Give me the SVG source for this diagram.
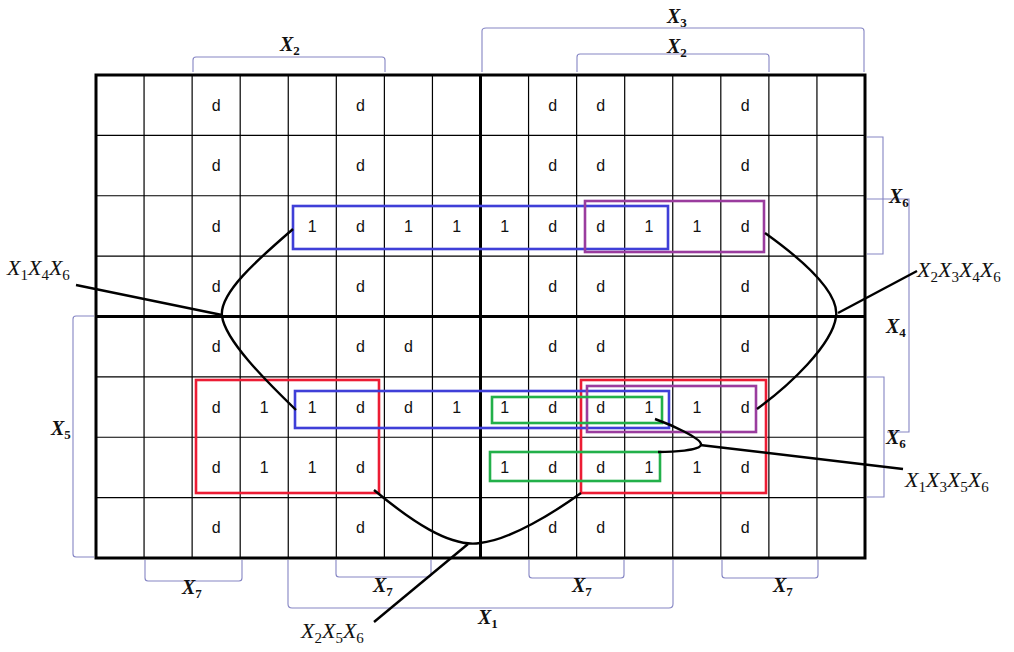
<svg xmlns="http://www.w3.org/2000/svg" width="1014" height="652" viewBox="0 0 1014 652">
<style>
.thin{stroke:#000;stroke-width:1.2;fill:none}
.thick{stroke:#000;stroke-width:3;fill:none}
.cell{font-family:"Liberation Sans",Arial,sans-serif;font-size:16px;text-anchor:middle;fill:#111}
.br{stroke:#8585c4;stroke-width:1.1;fill:none}
.bl{font-family:"Liberation Serif","Times New Roman",serif;font-size:20px;font-weight:bold;font-style:italic;fill:#111}
.bl .s{font-size:13px;font-style:normal}
.term{font-family:"Liberation Serif","Times New Roman",serif;font-size:22px;font-style:italic;fill:#111}
.term .s{font-size:15px;font-style:normal}
.loop{fill:none;stroke-width:2.6}
.blue{stroke:#3f3fd8}
.red{stroke:#ec1c34}
.purple{stroke:#9a3c9e}
.green{stroke:#22b04a}
.conn{fill:none;stroke:#000;stroke-width:2.4}
</style>
<rect width="1014" height="652" fill="#fff"/>
<g id="grid">
<path class="thin" d="M144.06 75V558M192.13 75V558M240.19 75V558M288.25 75V558M336.31 75V558M384.38 75V558M432.44 75V558M528.56 75V558M576.63 75V558M624.69 75V558M672.75 75V558M720.81 75V558M768.88 75V558M816.94 75V558M96 135.4H865M96 195.75H865M96 256.1H865M96 376.9H865M96 437.25H865M96 497.6H865"/>
<rect class="thick" x="96" y="75" width="769" height="483"/>
<path class="thick" d="M480.5 75V558M96 316.5H865"/>
</g>
<g id="cells">
<text class="cell" x="216.2" y="111">d</text><text class="cell" x="360.4" y="111">d</text><text class="cell" x="552.7" y="111">d</text><text class="cell" x="600.8" y="111">d</text><text class="cell" x="745.1" y="111">d</text>
<text class="cell" x="216.2" y="171">d</text><text class="cell" x="360.4" y="171">d</text><text class="cell" x="552.7" y="171">d</text><text class="cell" x="600.8" y="171">d</text><text class="cell" x="745.1" y="171">d</text>
<text class="cell" x="216.2" y="232">d</text><text class="cell" x="312.3" y="232">1</text><text class="cell" x="360.4" y="232">d</text><text class="cell" x="408.5" y="232">1</text><text class="cell" x="456.6" y="232">1</text><text class="cell" x="504.7" y="232">1</text><text class="cell" x="552.7" y="232">d</text><text class="cell" x="600.8" y="232">d</text><text class="cell" x="648.9" y="232">1</text><text class="cell" x="697" y="232">1</text><text class="cell" x="745.1" y="232">d</text>
<text class="cell" x="216.2" y="292">d</text><text class="cell" x="360.4" y="292">d</text><text class="cell" x="552.7" y="292">d</text><text class="cell" x="600.8" y="292">d</text><text class="cell" x="745.1" y="292">d</text>
<text class="cell" x="216.2" y="352">d</text><text class="cell" x="360.4" y="352">d</text><text class="cell" x="408.5" y="352">d</text><text class="cell" x="552.7" y="352">d</text><text class="cell" x="600.8" y="352">d</text><text class="cell" x="745.1" y="352">d</text>
<text class="cell" x="216.2" y="413">d</text><text class="cell" x="264.2" y="413">1</text><text class="cell" x="312.3" y="413">1</text><text class="cell" x="360.4" y="413">d</text><text class="cell" x="408.5" y="413">d</text><text class="cell" x="456.6" y="413">1</text><text class="cell" x="504.7" y="413">1</text><text class="cell" x="552.7" y="413">d</text><text class="cell" x="600.8" y="413">d</text><text class="cell" x="648.9" y="413">1</text><text class="cell" x="697" y="413">1</text><text class="cell" x="745.1" y="413">d</text>
<text class="cell" x="216.2" y="473">d</text><text class="cell" x="264.2" y="473">1</text><text class="cell" x="312.3" y="473">1</text><text class="cell" x="360.4" y="473">d</text><text class="cell" x="504.7" y="473">1</text><text class="cell" x="552.7" y="473">d</text><text class="cell" x="600.8" y="473">d</text><text class="cell" x="648.9" y="473">1</text><text class="cell" x="697" y="473">1</text><text class="cell" x="745.1" y="473">d</text>
<text class="cell" x="216.2" y="533">d</text><text class="cell" x="360.4" y="533">d</text><text class="cell" x="552.7" y="533">d</text><text class="cell" x="600.8" y="533">d</text><text class="cell" x="745.1" y="533">d</text>
</g>
<g id="loops">
<rect id="loop-blue-top" class="loop blue" x="293" y="206" width="375" height="43"/>
<rect id="loop-purple-top" class="loop purple" x="585" y="201" width="179" height="51"/>
<rect id="loop-red-left" class="loop red" x="196" y="380" width="183" height="113"/>
<rect id="loop-red-right" class="loop red" x="581" y="380" width="185" height="113"/>
<rect id="loop-blue-bottom" class="loop blue" x="295" y="391" width="374" height="37"/>
<rect id="loop-purple-bottom" class="loop purple" x="587" y="386" width="169" height="46"/>
<rect id="loop-green-upper" class="loop green" x="492" y="397" width="170" height="26"/>
<rect id="loop-green-lower" class="loop green" x="490" y="452" width="170" height="29"/>
</g>
<g id="brackets">
<path class="br" d="M193 72V60Q193 57 196 57H382Q385 57 385 60V72"/>
<path class="br" d="M482 72V31Q482 28 486 28H861Q864 28 864 31V72"/>
<path class="br" d="M577 72V57Q577 54 580 54H766Q769 54 769 57V72"/>
<path class="br" d="M867 137H883V254H867"/>
<path class="br" d="M867 199H909V432H887"/>
<path class="br" d="M867 377H884V497H867"/>
<path class="br" d="M94 316H76Q73 316 73 319V554Q73 557 76 557H94"/>
<path class="br" d="M145 560V578Q145 581 148 581H239Q242 581 242 578V560"/>
<path class="br" d="M336 560V574Q336 577 339 577H428Q431 577 431 574V560"/>
<path class="br" d="M288 560V604Q288 608 292 608H669Q673 608 673 604V560"/>
<path class="br" d="M529 560V575Q529 578 532 578H621Q624 578 624 575V560"/>
<path class="br" d="M722 560V575Q722 578 725 578H815Q818 578 818 575V560"/>
</g>
<g id="bracket-labels">
<text class="bl" x="280" y="51">X<tspan class="s" dy="4">2</tspan></text>
<text class="bl" x="667" y="23">X<tspan class="s" dy="4">3</tspan></text>
<text class="bl" x="667" y="53">X<tspan class="s" dy="4">2</tspan></text>
<text class="bl" x="889" y="203">X<tspan class="s" dy="4">6</tspan></text>
<text class="bl" x="886" y="333">X<tspan class="s" dy="4">4</tspan></text>
<text class="bl" x="886" y="444">X<tspan class="s" dy="4">6</tspan></text>
<text class="bl" x="51" y="435">X<tspan class="s" dy="4">5</tspan></text>
<text class="bl" x="182" y="594">X<tspan class="s" dy="4">7</tspan></text>
<text class="bl" x="373" y="592">X<tspan class="s" dy="4">7</tspan></text>
<text class="bl" x="478" y="624">X<tspan class="s" dy="4">1</tspan></text>
<text class="bl" x="572" y="592">X<tspan class="s" dy="4">7</tspan></text>
<text class="bl" x="773" y="592">X<tspan class="s" dy="4">7</tspan></text>
</g>
<g id="connectors">
<path class="conn" d="M293 229C262 256 219 292 222 316C225 340 265 380 296 410"/>
<path class="conn" d="M76 285L222 315"/>
<path class="conn" d="M765 233C800 258 840 292 836 317C832 345 790 385 757 409"/>
<path class="conn" d="M917 271L838 313"/>
<path class="conn" d="M374 490C410 520 450 548 480 543C510 540 555 512 581 493"/>
<path class="conn" d="M374 622L468 544"/>
<path class="conn" d="M655 419C672 425 700 438 701 444C702 451 670 452 658 452"/>
<path class="conn" d="M700 445L903 469"/>
</g>
<g id="term-labels">
<text class="term" x="7" y="275">X<tspan class="s" dy="5">1</tspan><tspan dy="-5">X</tspan><tspan class="s" dy="5">4</tspan><tspan dy="-5">X</tspan><tspan class="s" dy="5">6</tspan></text>
<text class="term" x="917" y="277">X<tspan class="s" dy="5">2</tspan><tspan dy="-5">X</tspan><tspan class="s" dy="5">3</tspan><tspan dy="-5">X</tspan><tspan class="s" dy="5">4</tspan><tspan dy="-5">X</tspan><tspan class="s" dy="5">6</tspan></text>
<text class="term" x="905" y="487">X<tspan class="s" dy="5">1</tspan><tspan dy="-5">X</tspan><tspan class="s" dy="5">3</tspan><tspan dy="-5">X</tspan><tspan class="s" dy="5">5</tspan><tspan dy="-5">X</tspan><tspan class="s" dy="5">6</tspan></text>
<text class="term" x="301" y="638">X<tspan class="s" dy="5">2</tspan><tspan dy="-5">X</tspan><tspan class="s" dy="5">5</tspan><tspan dy="-5">X</tspan><tspan class="s" dy="5">6</tspan></text>
</g>
</svg>
